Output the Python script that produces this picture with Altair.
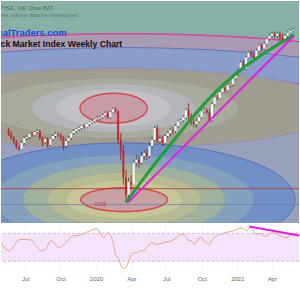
import altair as alt
import numpy as np
import pandas as pd

START = "2019-04-29"
FIRST_WEEK = "2019-05-06"

# ---- weekly candles (price units of the unlabeled chart) ----
opens = [270,266,262,258,253,251,257,262,263,266,265,268,269,262,258,261,255,261,264,266,
         265,262,254,259,262,267,269,271,272,274,273,276,278,279,281,282,283,285,287,283,
         288,291,289,260,250,222,205,218,215,237,240,237,244,247,244,254,260,272,259,261,
         257,264,267,270,269,274,279,280,283,290,284,278,276,279,283,289,290,288,280,296,
         303,302,308,312,310,315,316,322,327,330,338,332,343,348,345,342,350,355,352,357,
         362,365,367,365,367,363,361,365,368,370]
closes = [266,262,258,253,251,257,262,263,266,265,268,269,262,258,261,255,261,264,266,265,
          262,254,259,262,267,269,271,272,274,273,276,278,279,281,282,283,285,287,283,288,
          291,289,260,250,222,205,218,215,237,240,237,244,247,244,254,260,272,259,261,257,
          264,267,270,269,274,279,280,283,290,284,278,276,279,283,289,290,288,280,296,303,
          302,308,312,310,315,316,322,327,330,338,332,343,348,345,342,350,355,352,357,362,
          365,367,365,367,363,361,365,368,370,371]
highs = [272,269,264,260,255,259,264,265,267,268,269,271,270,264,263,263,262,266,268,268,
         267,264,261,264,268,271,272,274,275,276,277,279,281,282,284,285,287,289,289,290,
         293,293,290,267,255,230,222,225,240,245,244,248,250,251,257,263,274,275,265,264,
         266,269,272,273,276,281,282,285,292,297,287,281,282,285,291,293,292,291,298,307,
         305,310,314,314,317,318,324,329,332,340,341,345,350,351,350,352,357,357,359,364,
         367,369,369,369,369,367,367,370,372,373]
lows = [264,260,256,251,249,250,255,260,261,263,263,266,260,254,256,252,253,259,262,263,
        259,250,252,257,260,265,267,269,270,271,272,274,276,277,279,279,281,283,281,281,
        287,287,256,240,215,198,197,210,214,233,232,235,240,240,242,252,258,256,256,254,
        255,262,264,266,267,272,277,278,281,280,275,273,272,277,281,287,286,278,278,294,
        300,301,307,308,309,313,314,320,325,328,330,330,342,343,338,340,348,349,350,355,
        360,363,363,363,360,358,359,363,366,368]

# ---- weekly RSI (day offset from START, value) ----
rsi_day = [0,21,43,52,77,94,103,116,129,137,150,159,172,185,202,210,223,236,249,256,
           262,266,273,279,283,292,296,305,314,320,326,335,344,352,361,369,378,391,404,417,
           430,442,455,468,477,485,494,503,511,520,528,539,550,563,576,588,601,612,623,631,
           637,644,653,661,670,679,687,696,704,717,726,739,747,756,769]
rsi_val = [56.7,44.8,59.1,61.4,60.5,49.5,44.8,47.2,59.1,56.7,49.5,51.9,59.1,66.2,67.2,68.6,71.9,74.8,76.7,71.9,
           66.2,63.8,68.6,71.0,68.6,54.3,42.4,32.9,21.0,19.6,23.4,35.3,42.4,42.4,44.8,44.8,49.5,56.7,54.3,55.7,
           57.6,59.1,63.8,68.6,67.2,60.5,59.1,54.3,62.4,63.8,59.1,54.3,62.4,67.2,70.0,71.9,73.3,75.7,78.1,75.7,
           73.3,78.1,75.7,68.6,70.0,67.2,66.2,68.6,71.9,68.6,66.2,63.8,66.2,68.6,71.0]

# ---- drawn trend lines ----
green_day = [322, 387, 451, 541, 631, 696, 773]
green_price = [197, 230, 260, 300, 331, 348, 366]
magenta_day = [330, 773]
magenta_price = [198, 365]
rsi_trend_day = [644, 773]
rsi_trend_val = [80, 67]
hline_price = [211, 195]
hline_color = ["#b03838", "#6a80bb"]

# ---- Fibonacci ellipses: center day, center price, half-width (days), half-height (price) ----
ell_day = [317, 317, 317, 289, 289, 289, 289, 289, 317, 317, 317, 317, 317, 317]
ell_price = [200, 200, 200, 292, 292, 292, 292, 292, 200, 200, 200, 200, 200, 200]
ell_rx = [1546, 1340, 1031, 620, 335, 219, 155, 90, 459, 348, 271, 206, 155, 116]
ell_ry = [167, 153, 130, 40, 30, 24, 19, 15, 57, 45, 36, 27, 19, 12]
ell_fill = ["#a99bb2", "#8a9dcb", "#98a0bb", "#a29d93", "#a8ab9b", "#b3b6b9", "#c1c1c5",
            "#c79ca6", "#7290c6", "#86a1bd", "#9fb29d", "#b7bb93", "#c8c596", "#c9a1a3"]
ell_stroke = ["#d8489e", "#6b70b8", "#9a3ee0", "#8c8ca6", "#9aa0a8", "#b0b0b8", "#b8b8c0",
              "#d44a4a", "#5470b8", "#7a90b0", "#98a898", "#b0b090", "#c0bc90", "#d44a4a"]
ell_sw = [1.5, 1, 2, 0.6, 0.5, 0.4, 0.4, 1.5, 1, 0.5, 0.4, 0.4, 0.4, 1.5]

start_ts = pd.Timestamp(START)
def day_to_date(d):
    return start_ts + pd.to_timedelta(np.asarray(d, dtype=float), unit="D")

xdom = [alt.DateTime(year=2019, month=4, date=29),
        alt.DateTime(year=2021, month=6, date=10)]
main_h = 223
def x_main():
    return alt.X("date:T", scale=alt.Scale(domain=xdom), axis=None)
yscale = alt.Scale(domain=[177, 400], nice=False, zero=False)

layers = []
layers.append(alt.Chart(pd.DataFrame({"a": [0]})).mark_rect(color="#87b1a6").encode(
    x=alt.value(0), x2=alt.value(300), y=alt.value(0), y2=alt.value(main_h)))

theta = np.linspace(0, np.pi, 241)
for i in range(len(ell_day)):
    u = -np.cos(theta)
    dates = day_to_date(ell_day[i] + u * ell_rx[i])
    half = ell_ry[i] * np.sin(theta)
    df = pd.DataFrame({"date": dates, "top": ell_price[i] + half, "bot": ell_price[i] - half})
    layers.append(alt.Chart(df).mark_area(
        clip=True, fill=ell_fill[i], stroke=ell_stroke[i], strokeWidth=ell_sw[i]).encode(
        x=x_main(), y=alt.Y("top:Q", scale=yscale, axis=None), y2="bot:Q"))

hl = pd.DataFrame({"price": hline_price, "c": hline_color})
layers.append(alt.Chart(hl).mark_rule(strokeWidth=1, opacity=0.8, clip=True).encode(
    y=alt.Y("price:Q", scale=yscale, axis=None), color=alt.Color("c:N", scale=None)))

n = len(closes)
weeks = pd.date_range(FIRST_WEEK, periods=n, freq="7D")
candles = pd.DataFrame({"date": weeks, "open": opens[:n], "high": highs[:n],
                        "low": lows[:n], "close": closes[:n]})
up = candles["close"] >= candles["open"]
candles["body"] = np.where(up, "#f7f7f7", "#c3282c")
candles["wick"] = np.where(up, "#444444", "#8e1b1b")

layers.append(alt.Chart(candles).mark_rule(strokeWidth=0.8, clip=True).encode(
    x=x_main(), y=alt.Y("low:Q", scale=yscale, axis=None), y2="high:Q",
    color=alt.Color("wick:N", scale=None)))
layers.append(alt.Chart(candles).mark_bar(size=2, clip=True).encode(
    x=x_main(), y=alt.Y("open:Q", scale=yscale, axis=None), y2="close:Q",
    color=alt.Color("body:N", scale=None)))

gdf = pd.DataFrame({"date": day_to_date(green_day), "price": green_price})
layers.append(alt.Chart(gdf).mark_line(color="#1f9e3a", strokeWidth=3, interpolate="monotone",
                                       clip=True).encode(
    x=x_main(), y=alt.Y("price:Q", scale=yscale, axis=None)))
mdf = pd.DataFrame({"date": day_to_date(magenta_day), "price": magenta_price})
layers.append(alt.Chart(mdf).mark_line(color="#e21ee0", strokeWidth=2, clip=True).encode(
    x=x_main(), y=alt.Y("price:Q", scale=yscale, axis=None)))

one = pd.DataFrame({"a": [0]})
def label(txt, x, y, size, color, weight="normal", align="right"):
    return alt.Chart(one).mark_text(text=txt, fontSize=size, color=color, fontWeight=weight,
                                    align=align, baseline="middle", font="Liberation Sans",
                                    clip=True).encode(
        x=alt.value(x), y=alt.value(y))

layers.append(label("SPYS/L, 1W, Cboe BZX", 53, 7, 5.5, "#4d6660"))
layers.append(label("Incomplete volume data be misreported", 77, 14, 5.5, "#5f7872"))
layers.append(label("TechnicalTraders.com", 66, 32, 9.5, "#2347e0", "bold"))
layers.append(label("Stock Market Index Weekly Chart", 122, 43, 8.7, "#111111", "bold"))
layers.append(label("0.618", 100, 205, 4.5, "#c03030", "normal", "center"))

main = alt.layer(*layers).properties(width=300, height=main_h)

# ---- RSI panel ----
rdom = alt.Scale(domain=[14.3, 85.7], nice=False, zero=False)
x_axis = alt.Axis(tickCount=alt.TimeIntervalStep(interval="month", step=3),
                  labelExpr="month(datum.value) == 0 ? timeFormat(datum.value, '%Y') : timeFormat(datum.value, '%b')",
                  labelFontSize=6, labelColor="#666666", labelFont="Liberation Sans",
                  ticks=False, domain=False, grid=True, gridColor="#ececec", gridWidth=0.6,
                  labelPadding=3, title=None)
rsi_df = pd.DataFrame({"date": day_to_date(rsi_day[:len(rsi_val)]), "rsi": rsi_val[:len(rsi_day)]})
band = alt.Chart(pd.DataFrame({"lo": [30], "hi": [70]})).mark_rect(color="#f3e4fb").encode(
    y=alt.Y("lo:Q", scale=rdom, axis=None), y2="hi:Q")
bounds = alt.Chart(pd.DataFrame({"v": [30, 70]})).mark_rule(
    color="#c9a9d9", strokeDash=[3, 2], strokeWidth=0.8).encode(
    y=alt.Y("v:Q", scale=rdom, axis=None))
rline = alt.Chart(rsi_df).mark_line(color="#e39d76", strokeWidth=0.9, interpolate="monotone",
                                    clip=True).encode(
    x=alt.X("date:T", scale=alt.Scale(domain=xdom), axis=x_axis),
    y=alt.Y("rsi:Q", scale=rdom, axis=None))
rt = pd.DataFrame({"date": day_to_date(rsi_trend_day), "rsi": rsi_trend_val})
rtrend = alt.Chart(rt).mark_line(color="#e21ee0", strokeWidth=2, clip=True).encode(
    x=alt.X("date:T", scale=alt.Scale(domain=xdom)), y=alt.Y("rsi:Q", scale=rdom, axis=None))
rsi = alt.layer(band, bounds, rline, rtrend).properties(width=300, height=50)

chart = alt.vconcat(main, rsi, spacing=0).properties(
    padding={"left": 0, "top": 0, "right": 0, "bottom": 0}, background="white"
).configure_view(strokeWidth=0)

chart.save("out.html", embed_options={"renderer": "svg", "actions": False})
